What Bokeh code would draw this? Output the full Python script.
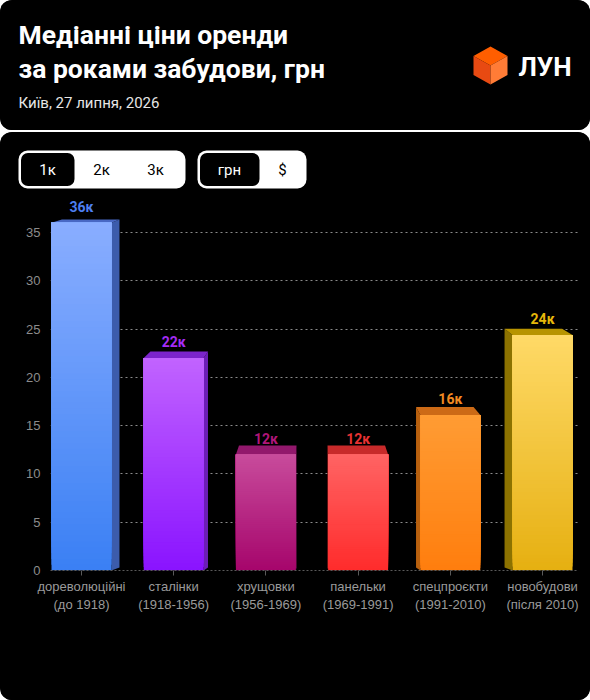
import numpy as np
from bokeh.plotting import figure
from bokeh.layouts import column
from bokeh.models import Range1d, FixedTicker
from bokeh.core.properties import value
from bokeh.embed import file_html
from bokeh.resources import INLINE

# ---- data -------------------------------------------------------------
categories = [
    "дореволюційні\n(до 1918)",
    "сталінки\n(1918-1956)",
    "хрущовки\n(1956-1969)",
    "панельки\n(1969-1991)",
    "спецпроєкти\n(1991-2010)",
    "новобудови\n(після 2010)",
]
median_rent_k = [36, 22, 12, 12, 16.1, 24.4]
y_ticks = [0, 5, 10, 15, 20, 25, 30, 35]

title_lines = ["Медіанні ціни оренди", "за роками забудови, грн"]
subtitle = "Київ, 27 липня, 2026"
brand = "ЛУН"
room_options = ["1к", "2к", "3к"]
currency_options = ["грн", "$"]

# ---- styling ----------------------------------------------------------
front_top = ["#8aaeff", "#c264ff", "#c84c9c", "#ff6464", "#ff9c34", "#ffda68"]
front_bottom = ["#3b80f4", "#8a14ff", "#a6066c", "#ff2c2c", "#ff7e0e", "#e6b012"]
side_colors = ["#3c5cac", "#6c1eb6", "#8a1464", "#b82222", "#b8600e", "#8c7200"]
roof_colors = ["#4868c4", "#7c24cc", "#92186c", "#c82a2a", "#cc6a16", "#b89400"]
label_colors = ["#4d7ef0", "#a42cf4", "#b0167a", "#e83232", "#f28a22", "#e6b80a"]

FONT = value("Roboto")
AXIS_FONT = "Liberation Sans"
W = 590
CARD = {"border-radius": "12px", "overflow": "hidden", "background-color": "black"}


def mix(c1, c2, t):
    a = np.array([int(c1[i:i + 2], 16) for i in (1, 3, 5)], dtype=float)
    b = np.array([int(c2[i:i + 2], 16) for i in (1, 3, 5)], dtype=float)
    r = a + (b - a) * t
    return "#%02x%02x%02x" % tuple(int(round(x)) for x in r)


# ---- header card ------------------------------------------------------
header = figure(width=W, height=130, x_range=Range1d(0, W), y_range=Range1d(130, 0),
                output_backend="svg", toolbar_location=None,
                x_axis_type=None, y_axis_type=None, min_border=0,
                background_fill_color="black", border_fill_color="black",
                outline_line_color=None, styles=CARD)
header.frame_align = False
header.text(x=[18, 18], y=[34, 68], text=title_lines, text_font=FONT,
            text_font_size="26.5px", text_font_style="bold", text_color="white",
            text_baseline="middle")
header.text(x=[18], y=[102], text=[subtitle], text_font=FONT,
            text_font_size="15px", text_color="#e6e6e6", text_baseline="middle")

# cube logo
cx, cy, hw, hh = 490, 65, 17, 19
top_face = ([cx, cx - hw, cx, cx + hw], [cy - hh, cy - hh / 2, cy, cy - hh / 2])
left_face = ([cx - hw, cx, cx, cx - hw], [cy - hh / 2, cy, cy + hh, cy + hh / 2])
right_face = ([cx, cx + hw, cx + hw, cx], [cy, cy - hh / 2, cy + hh / 2, cy + hh])
header.patches(xs=[top_face[0], left_face[0], right_face[0]],
               ys=[top_face[1], left_face[1], right_face[1]],
               fill_color=["#ff5e00", "#e84a12", "#ff7c36"], line_color=None)
header.text(x=[518], y=[66], text=[brand], text_font=FONT, text_font_size="26px",
            text_font_style="bold", text_color="white", text_baseline="middle")

# ---- toggle row -------------------------------------------------------
toggles = figure(width=W, height=64, x_range=Range1d(0, W), y_range=Range1d(64, 0),
                 output_backend="svg", toolbar_location=None,
                 x_axis_type=None, y_axis_type=None, min_border=0,
                 background_fill_color="black", border_fill_color="black",
                 outline_line_color=None)
toggles.frame_align = False
toggles.quad(left=[18, 197], right=[185, 306], top=[18, 18], bottom=[56, 56],
             fill_color="white", line_color=None, border_radius=9)
toggles.quad(left=[20.5, 199.5], right=[74, 259], top=[20.5, 20.5], bottom=[53.5, 53.5],
             fill_color="black", line_color=None, border_radius=7)
opt_x = [47, 101, 155, 229, 282]
opt_text = room_options + currency_options
opt_col = ["white", "black", "black", "white", "black"]
toggles.text(x=opt_x, y=[37] * 5, text=opt_text, text_color=opt_col, text_font=FONT,
             text_font_size="15px", text_align="center", text_baseline="middle")

# ---- bar chart --------------------------------------------------------
X0, X1 = -0.336, 5.39
Y0, Y1 = 0, 38.73
chart = figure(width=W, height=504, x_range=Range1d(X0, X1), y_range=Range1d(Y0, Y1),
               output_backend="svg", toolbar_location=None,
               min_border_left=50, min_border_right=12, min_border_top=0,
               min_border_bottom=130,
               background_fill_color="black", border_fill_color="black",
               outline_line_color=None)
chart.frame_align = False

chart.xgrid.visible = False
chart.ygrid.ticker = FixedTicker(ticks=y_ticks[1:])
chart.ygrid.grid_line_color = "#8a8a8a"
chart.ygrid.grid_line_dash = "2 3"
chart.ygrid.grid_line_width = 1

yax = chart.yaxis[0]
yax.ticker = FixedTicker(ticks=y_ticks)
yax.axis_line_color = None
yax.major_tick_line_color = None
yax.minor_tick_line_color = None
yax.major_label_text_color = "#8c8c8c"
yax.major_label_text_font = AXIS_FONT
yax.major_label_text_font_size = "13px"
yax.major_label_standoff = 4

xax = chart.xaxis[0]
xax.ticker = FixedTicker(ticks=list(range(len(categories))))
xax.major_label_overrides = {i: c for i, c in enumerate(categories)}
xax.axis_line_color = "#5a5a5a"
xax.axis_line_dash = "2 2"
xax.major_tick_line_color = "#5a5a5a"
xax.major_tick_out = 5
xax.major_tick_in = 0
xax.minor_tick_line_color = None
xax.major_label_text_color = "#9a9a9a"
xax.major_label_text_font = AXIS_FONT
xax.major_label_text_font_size = "13px"
xax.major_label_standoff = 3

BAR_W = 0.65
KX, VX = 0.04, 2.5            # horizontal depth offset toward the centre
KY, VY = 0.0241, 50.7         # vertical depth offset of the roof
BOTTOM_LIFT = 0.3
N = 60

for i, v in enumerate(median_rent_k):
    xl, xr = i - BAR_W / 2, i + BAR_W / 2
    dxl, dxr = KX * (VX - xl), KX * (VX - xr)
    dyt = KY * (VY - v)
    # side face toward the centre
    if dxr > 0:
        sx, sdx = xr, dxr
    else:
        sx, sdx = xl, dxl
    chart.patch(x=[sx, sx, sx + sdx, sx + sdx], y=[0, v, v + dyt, BOTTOM_LIFT],
                fill_color=side_colors[i], line_color=None)
    # roof
    chart.patch(x=[xl, xr, xr + dxr, xl + dxl], y=[v, v, v + dyt, v + dyt],
                fill_color=roof_colors[i], line_color=None)
    # front face with vertical gradient
    t = np.arange(N) / N
    bottoms = v * t
    cols = [mix(front_bottom[i], front_top[i], tt) for tt in t]
    chart.quad(left=[xl] * N, right=[xr] * N, bottom=bottoms, top=[v] * N,
               fill_color=cols, line_color=None)

chart.text(x=list(range(len(median_rent_k))), y=median_rent_k,
           text=[f"{round(v)}к" for v in median_rent_k], text_color=label_colors,
           text_font=FONT, text_font_size="14px", text_font_style="bold",
           text_align="center", text_baseline="middle", y_offset=-16)

lower = column(toggles, chart, spacing=0, styles=CARD)
page = column(header, lower, spacing=2)

open("out.html", "w").write(file_html(page, INLINE))
